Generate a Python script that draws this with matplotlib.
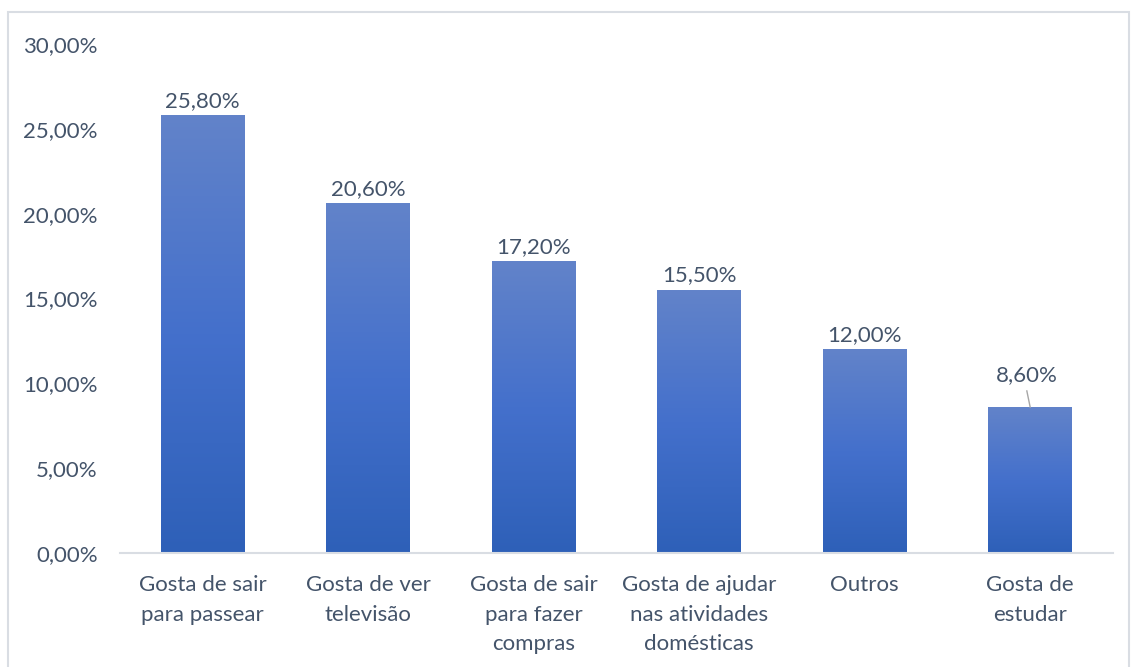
import numpy as np
import matplotlib.pyplot as plt
from matplotlib.colors import LinearSegmentedColormap
from matplotlib.patches import Rectangle

categorias = [
    "Gosta de sair\npara passear",
    "Gosta de ver\ntelevisão",
    "Gosta de sair\npara fazer\ncompras",
    "Gosta de ajudar\nnas atividades\ndomésticas",
    "Outros",
    "Gosta de\nestudar",
]
valores = [25.8, 20.6, 17.2, 15.5, 12.0, 8.6]
yticks = [0, 5, 10, 15, 20, 25, 30]

COR_TEXTO = "#44546a"
TAM = 16
plt.rcParams["font.family"] = ["Lato", "DejaVu Sans"]

fig = plt.figure(figsize=(11.31, 6.67), dpi=100)
ax = fig.add_axes([0.106, 0.171, 0.878, 0.763])

# moldura clara em volta do gráfico
fig.patches.append(Rectangle((0.007, -0.01), 0.991, 0.992, transform=fig.transFigure,
                             fill=False, edgecolor="#d9dde3", linewidth=1.5))

grad = LinearSegmentedColormap.from_list("barra", ["#2e60b8", "#4470cc", "#6283c9"])
largura = 0.506
x = np.arange(len(categorias))

barras = ax.bar(x, valores, width=largura, color="none", edgecolor="none")
for b in barras:
    x0, h = b.get_x(), b.get_height()
    img = ax.imshow(np.linspace(0, 1, 256).reshape(-1, 1), cmap=grad, origin="lower",
                    extent=(x0, x0 + largura, 0, h), aspect="auto", zorder=2)
    img.set_clip_path(b)

for i, v in enumerate(valores):
    rotulo = f"{v:.2f}%".replace(".", ",")
    if i == len(valores) - 1:
        # rótulo deslocado com linha de chamada
        ax.text(i - 0.02, v + 1.9, rotulo, ha="center", va="center",
                fontsize=TAM, color=COR_TEXTO)
        ax.plot([i - 0.02, i], [v + 0.95, v], color="#a6a6a6", linewidth=1, zorder=3)
    else:
        ax.text(i, v + 0.85, rotulo, ha="center", va="center",
                fontsize=TAM, color=COR_TEXTO)

ax.set_xlim(-0.5, len(categorias) - 0.5)
ax.set_ylim(0, 30)
ax.set_yticks(yticks)
ax.set_yticklabels([f"{t:.2f}%".replace(".", ",") for t in yticks])
ax.set_xticks(x)
ax.set_xticklabels(categorias, linespacing=1.6)
ax.tick_params(length=0, labelsize=TAM, labelcolor=COR_TEXTO)
ax.tick_params(axis="y", pad=16)
ax.tick_params(axis="x", pad=16)
for lado in ["top", "right", "left"]:
    ax.spines[lado].set_visible(False)
ax.spines["bottom"].set_color("#d9dde3")
ax.spines["bottom"].set_linewidth(1.5)

fig.savefig("out.png", dpi=100)
